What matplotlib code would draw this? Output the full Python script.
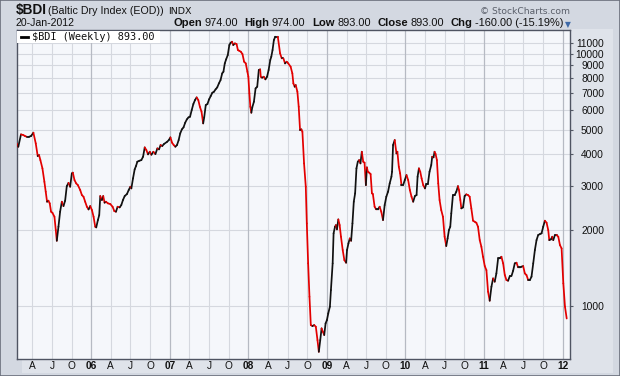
import matplotlib
matplotlib.use("Agg")
import matplotlib.pyplot as plt
from matplotlib.collections import LineCollection
from matplotlib.patches import Rectangle
from matplotlib.ticker import NullLocator, NullFormatter

plt.rcParams["font.family"] = ["Liberation Sans", "DejaVu Sans"]

# ------------------------------------------------------------------
# Data: weekly $BDI closes (time in decimal years)
# ------------------------------------------------------------------
t_years = [
    2005.051, 2005.072, 2005.106, 2005.136, 2005.157, 2005.179, 2005.209, 2005.234,
    2005.264, 2005.294, 2005.319, 2005.336, 2005.353, 2005.379, 2005.404, 2005.421,
    2005.438, 2005.455, 2005.472, 2005.489, 2005.506, 2005.532, 2005.549, 2005.562,
    2005.583, 2005.604, 2005.626, 2005.647, 2005.668, 2005.689, 2005.711, 2005.732,
    2005.753, 2005.766, 2005.787, 2005.809, 2005.830, 2005.860, 2005.881, 2005.902,
    2005.923, 2005.945, 2005.966, 2005.987, 2006.009, 2006.030, 2006.051, 2006.064,
    2006.085, 2006.102, 2006.115, 2006.136, 2006.153, 2006.170, 2006.187, 2006.213,
    2006.243, 2006.272, 2006.294, 2006.315, 2006.336, 2006.362, 2006.383, 2006.404,
    2006.426, 2006.455, 2006.477, 2006.498, 2006.511, 2006.532, 2006.553, 2006.570,
    2006.587, 2006.613, 2006.638, 2006.660, 2006.681, 2006.702, 2006.723, 2006.745,
    2006.766, 2006.791, 2006.817,
    2006.842, 2006.863, 2006.883, 2006.904, 2006.925, 2006.967, 2006.988, 2007.008,
    2007.029, 2007.050, 2007.071, 2007.092, 2007.113, 2007.133, 2007.154, 2007.175,
    2007.196, 2007.217, 2007.238, 2007.258, 2007.279, 2007.300, 2007.321, 2007.342,
    2007.363, 2007.383, 2007.404, 2007.425, 2007.438, 2007.458, 2007.479, 2007.500,
    2007.521, 2007.542, 2007.563, 2007.583, 2007.604, 2007.625, 2007.646, 2007.667,
    2007.683, 2007.700, 2007.717, 2007.738, 2007.758, 2007.775, 2007.792, 2007.808,
    2007.829, 2007.850, 2007.867, 2007.883, 2007.904, 2007.925, 2007.946, 2007.967,
    2007.988, 2008.000, 2008.013, 2008.025, 2008.038, 2008.050, 2008.071, 2008.092,
    2008.113, 2008.133, 2008.150, 2008.158, 2008.175, 2008.196, 2008.217, 2008.238,
    2008.258, 2008.279, 2008.292, 2008.308, 2008.325, 2008.342, 2008.375, 2008.404,
    2008.425, 2008.446, 2008.467, 2008.488, 2008.508,
    2008.538, 2008.560, 2008.573, 2008.590, 2008.603, 2008.624, 2008.641, 2008.658,
    2008.675, 2008.688, 2008.709, 2008.731, 2008.744, 2008.761, 2008.778, 2008.795,
    2008.816, 2008.838, 2008.859, 2008.880, 2008.897, 2008.915, 2008.932, 2008.949,
    2008.966, 2008.983, 2009.000, 2009.017, 2009.038, 2009.051, 2009.073, 2009.085,
    2009.103, 2009.115, 2009.128, 2009.145, 2009.162, 2009.179, 2009.201, 2009.222,
    2009.244, 2009.256, 2009.274, 2009.291, 2009.308, 2009.325, 2009.342, 2009.359,
    2009.376, 2009.393, 2009.410, 2009.427, 2009.444, 2009.462, 2009.479, 2009.496,
    2009.509, 2009.521, 2009.538, 2009.556, 2009.573, 2009.585, 2009.607, 2009.628,
    2009.650, 2009.671, 2009.692, 2009.714, 2009.735, 2009.756, 2009.778, 2009.799,
    2009.821, 2009.829, 2009.842, 2009.863, 2009.885, 2009.897, 2009.915, 2009.932,
    2009.949, 2009.970, 2009.991, 2010.013, 2010.034, 2010.056, 2010.077, 2010.098,
    2010.120, 2010.141, 2010.154, 2010.171, 2010.188, 2010.205, 2010.226, 2010.248,
    2010.264, 2010.285, 2010.306, 2010.328, 2010.340, 2010.357, 2010.370, 2010.383,
    2010.400, 2010.417, 2010.434, 2010.455, 2010.477, 2010.498, 2010.519, 2010.536,
    2010.553, 2010.570, 2010.583, 2010.604, 2010.626, 2010.647, 2010.668, 2010.681,
    2010.698, 2010.711, 2010.732, 2010.753, 2010.774, 2010.796, 2010.817, 2010.838,
    2010.860, 2010.881, 2010.902, 2010.923, 2010.945, 2010.966, 2010.987, 2011.009,
    2011.030, 2011.051, 2011.072, 2011.094, 2011.115, 2011.136, 2011.157, 2011.179,
    2011.200, 2011.221, 2011.243, 2011.264, 2011.285, 2011.306, 2011.328, 2011.349,
    2011.370, 2011.391, 2011.413, 2011.434, 2011.455, 2011.477, 2011.498, 2011.519,
    2011.540, 2011.562, 2011.583, 2011.604, 2011.626, 2011.647, 2011.668, 2011.689,
    2011.711, 2011.732, 2011.753, 2011.774, 2011.796, 2011.817, 2011.830, 2011.851,
    2011.868, 2011.881, 2011.902, 2011.923, 2011.945, 2011.966, 2011.987, 2012.009,
    2012.030, 2012.052,
]

close = [
    4407, 4276, 4785, 4755, 4713, 4684, 4684, 4713,
    4860, 4407, 3927, 3963, 3785, 3510, 3106, 2837,
    2590, 2614, 2551, 2364, 2342, 2258, 2000, 1814,
    2062, 2364, 2590, 2489, 2614, 2985, 3076, 2969,
    3351, 3376, 3155, 3060, 3013, 2880, 2752, 2710,
    2590, 2474, 2414, 2489, 2400, 2258, 2062, 2049,
    2191, 2291, 2727, 2630, 2727, 2567, 2590, 2551,
    2535, 2474, 2378, 2364, 2474, 2459, 2512, 2630,
    2727, 2778, 2880, 2969, 2924, 3204, 3478, 3585,
    3730, 3763, 3785, 3904, 4250, 4147, 3988, 4085,
    3975, 4085, 3998,
    4211, 4174, 4342, 4302, 4381, 4475, 4544, 4656,
    4435, 4342, 4276, 4342, 4544, 4830, 5010, 5102,
    5322, 5486, 5588, 5622, 5973, 6310, 6543, 6705,
    6543, 6157, 5883, 5289, 5588, 6252, 6310, 6585,
    6788, 6998, 7063, 7215, 7345, 7617, 7852, 8345,
    8472, 9141, 9482, 9865, 10807, 11036, 11138, 10807,
    10970, 10904, 10325, 10261, 10169, 9955, 9284, 9141,
    8472, 8095, 6955, 6157, 5830, 6121, 6447, 7278,
    7390, 8603, 8655, 8095, 8024, 8095, 7903, 8095,
    8603, 9425, 9716, 10325, 11310, 11660, 11660, 10015,
    9570, 9570, 9141, 9284, 9141,
    8870, 8345, 7617, 7390, 7502, 7063, 6157, 4978,
    5010, 4901, 3673, 2969, 2125, 1476, 1089, 841,
    833, 841, 828, 733, 659, 733, 816, 791,
    768, 854, 880, 935, 995, 1157, 1476, 1941,
    2062, 2093, 2012, 2204, 2093, 1882, 1667, 1521,
    1485, 1667, 1771, 1853, 1814, 2125, 2590, 2795,
    3510, 3730, 3785, 3673, 4085, 3730, 3696, 3013,
    3542, 3404, 3376, 3332, 2795, 2778, 2474, 2414,
    2414, 2474, 2364, 2191, 2512, 2710, 2837, 3060,
    3252, 3404, 4342, 4544, 4023, 4085, 3563, 3351,
    3013, 3013, 3155, 3302, 3155, 2880, 2710, 2590,
    2727, 2752, 3252, 3510, 3404, 3204, 3013, 2924,
    3042, 3042, 3404, 3618, 3904, 3880, 4085, 4000,
    3785, 3060, 2630, 2400, 2258, 1882, 1729, 1853,
    2000, 2062, 2328, 2752, 2752, 2837, 2985, 2880,
    2630, 2437, 2459, 2727, 2769, 2752, 2710, 2437,
    2178, 2158, 2138, 2062, 1825, 1718, 1568, 1440,
    1388, 1140, 1050, 1193, 1287, 1249, 1347, 1545,
    1545, 1568, 1476, 1327, 1268, 1260, 1315, 1315,
    1380, 1476, 1485, 1423, 1423, 1432, 1440, 1347,
    1327, 1268, 1268, 1307, 1476, 1667, 1825, 1911,
    1928, 1941, 2062, 2178, 2138, 2000, 1825, 1837,
    1882, 1825, 1911, 1911, 1882, 1744, 1692, 1230,
    995, 893,
]

y_ticks = [1000, 2000, 3000, 4000, 5000, 6000, 7000, 8000, 9000, 10000, 11000]
quarter_letters = {1: "A", 2: "J", 3: "O"}
quote_parts = [
    ("Open", "974.00"), ("High", "974.00"), ("Low", "893.00"),
    ("Close", "893.00"), ("Chg", "-160.00 (-15.19%)"),
]

# ------------------------------------------------------------------
# Figure / frame
# ------------------------------------------------------------------
W, H = 620, 376
fig = plt.figure(figsize=(W / 100, H / 100), dpi=100)
fig.patch.set_facecolor("#d3d8e1")


def fx(px):
    return px / W


def fy(py):
    return 1 - py / H


# lighter strips behind the axis labels
fig.add_artist(Rectangle((fx(570), fy(373)), (613 - 570) / W, (373 - 29) / H,
                         transform=fig.transFigure, facecolor="#dfe3ea",
                         edgecolor="none", zorder=-5))
fig.add_artist(Rectangle((fx(22), fy(373)), (570 - 22) / W, (373 - 358) / H,
                         transform=fig.transFigure, facecolor="#dfe3ea",
                         edgecolor="none", zorder=-5))
fig.add_artist(Rectangle((0, 0), 1, 1, transform=fig.transFigure, fill=False,
                         edgecolor="#6a6f7b", linewidth=1.2, zorder=10))

ax = fig.add_axes([fx(16.5), fy(358.5), (570 - 16.5) / W, (358.5 - 30) / H])
ax.set_facecolor("#f5f7fb")
ax.set_yscale("log")
ax.set_xlim(2005.049, 2012.094)
ax.set_ylim(620, 12396)

# grid
for v in y_ticks:
    ax.axhline(v, color="#d5d8df", linewidth=0.8, zorder=0)
quarters = [y + q / 4 for y in range(2005, 2013) for q in range(4)
            if 2005.049 < y + q / 4 < 2012.094]
for q in quarters:
    is_year = abs(q - round(q)) < 1e-9
    ax.axvline(q, color="#b6bac3" if is_year else "#d5d8df",
               linewidth=0.9 if is_year else 0.8, zorder=0)

# price line: black on up weeks, red on down weeks
segs, cols = [], []
for i in range(1, len(close)):
    segs.append([(t_years[i - 1], close[i - 1]), (t_years[i], close[i])])
    cols.append("#111111" if close[i] >= close[i - 1] else "#e30000")
lc = LineCollection(segs, colors=cols, linewidths=1.25, capstyle="round", zorder=3)
ax.add_collection(lc)

# axes styling
for sp in ax.spines.values():
    sp.set_color("#4f5462")
    sp.set_linewidth(1.0)

ax.yaxis.tick_right()
ax.set_yticks(y_ticks)
ax.set_yticklabels([str(v) for v in y_ticks])
ax.yaxis.set_minor_locator(NullLocator())
ax.yaxis.set_minor_formatter(NullFormatter())
ax.tick_params(axis="y", direction="out", length=2.5, width=0.8, color="#555a66",
               labelsize=7.4, labelcolor="#111111", pad=22.0)
for lab in ax.get_yticklabels():
    lab.set_horizontalalignment("right")

ax.set_xticks(quarters)
xlabels = []
for q in quarters:
    k = int(round((q % 1) * 4))
    xlabels.append(f"{int(round(q)) % 100:02d}" if k == 0 else quarter_letters[k])
ax.set_xticklabels(xlabels)
ax.tick_params(axis="x", length=0, labelsize=7.3, labelcolor="#111111", pad=2.0)
for lab in ax.get_xticklabels():
    if lab.get_text().isdigit():
        lab.set_fontweight("bold")

# legend box
fig.add_artist(Rectangle((fx(17), fy(43)), (160 - 17) / W, (43 - 30.5) / H,
                         transform=fig.transFigure, facecolor="white",
                         edgecolor="none", zorder=4))
fig.add_artist(plt.Line2D([fx(21), fx(28)], [fy(36.5), fy(36.5)],
                          transform=fig.transFigure, color="black",
                          linewidth=2.0, zorder=5))
fig.text(fx(32), fy(36.8), "$BDI (Weekly) 893.00", family="DejaVu Sans Mono",
         fontsize=7.4, va="center", ha="left", color="#111111", zorder=5)

# ------------------------------------------------------------------
# Header
# ------------------------------------------------------------------
fig.text(fx(16), fy(14), "$BDI", fontsize=9.8, fontweight="bold",
         va="baseline", color="#111111")
fig.text(fx(48), fy(14), "(Baltic Dry Index (EOD))", fontsize=7.7,
         va="baseline", color="#111111")
fig.text(fx(168), fy(14), "INDX", family="DejaVu Sans", fontsize=6.8,
         va="baseline", color="#111111")
fig.text(fx(16), fy(26), "20-Jan-2012", fontsize=7.6, va="baseline",
         color="#111111")
fig.text(fx(570), fy(11), "\u00a9 StockCharts.com", family="DejaVu Sans",
         fontsize=6.6, va="center", ha="right", color="#5a5f6a")

renderer = fig.canvas.get_renderer()
x = 173
for label, value in quote_parts:
    t = fig.text(fx(x), fy(26), label, fontsize=8.1, fontweight="bold",
                 va="baseline", color="#111111")
    x += t.get_window_extent(renderer).width + 2.5
    t = fig.text(fx(x), fy(26), value, fontsize=7.9, va="baseline",
                 color="#111111")
    x += t.get_window_extent(renderer).width + 6.5
fig.text(fx(x - 4.5), fy(24.5), "\u25bc", family="DejaVu Sans", fontsize=5.5,
         va="center", ha="left", color="#3d69a8")

fig.savefig("out.png", dpi=100, facecolor=fig.get_facecolor())
